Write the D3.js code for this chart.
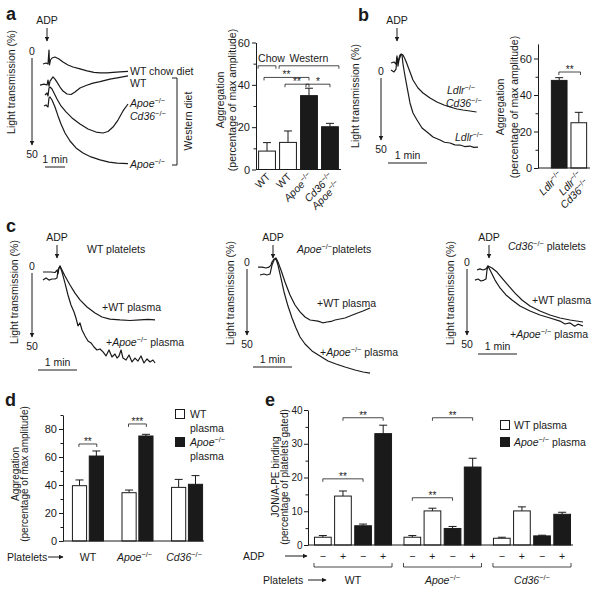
<!DOCTYPE html>
<html>
<head>
<meta charset="utf-8">
<script src="https://cdn.jsdelivr.net/npm/d3@7"></script>
<style>
body { margin: 0; background: #fff; }
text { font-family: "Liberation Sans", Arial, Helvetica, sans-serif; fill: #1a1a1a; }
</style>
</head>
<body>
<svg id="fig" width="601" height="593"></svg>
<script>
// ---------------- data ----------------
// traces: [seconds after ADP, light transmission %]
const aTraceWTChow = [[-18,4.2],[-9,3.6],[-3,4.2],[0,-4.2],[1.5,4.8],[4.5,1.8],[9,0.6],[18,0],[30,1.2],[42,3],[57,4.8],[72,6],[93,7.2],[114,8.4],[135,9.3],[153,9.6],[174,9.6],[192,9.3],[213,9],[237,8.7]]
const aTraceWTWestern = [[-27,16.9],[-15,16.3],[-6,16.9],[-3,13.9],[0,17.5],[3,14.5],[12,12],[18,13.3],[24,15.1],[33,18.1],[42,20.5],[54,22.3],[66,22.6],[78,21.1],[93,18.7],[111,17.2],[132,15.7],[153,14.8],[183,13.3],[213,12.3],[237,11.4]]
const aTraceApoeCd36 = [[-12,22.9],[-6,21.7],[-3,23.5],[0,18.7],[3,18.1],[9,19.3],[15,21.7],[24,25.3],[36,29.5],[51,33.1],[69,36.7],[93,40.4],[117,43.4],[141,45.2],[162,45.8],[177,44.9],[192,42.2],[207,38],[222,32.5],[237,28.3]]
const aTraceApoe = [[-15,29.5],[-9,28.9],[-3,30.1],[0,24.7],[3,24.1],[9,25.9],[18,30.1],[27,35.5],[36,40.4],[48,45.8],[63,50.6],[81,54.8],[102,57.8],[126,60.2],[153,62],[180,63.3],[204,63.9],[237,64.2]]
const aLabels = ["WT", "WT", "_Apoe_^−/−^", "_Cd36_^−/−^|_Apoe_^−/−^"]
const aAggregation = [8.7, 12.8, 34.9, 20.2]
const aSem = [4, 5.4, 3.5, 1.6]
const aSig = [[0, 2, 43.5, "**"], [1, 2, 40.3, "**"], [2, 3, 40.3, "*"]]

const bTraceLdlrCd36 = [[-9.2,-11.1],[-4.6,-11.9],[-1.5,-10.3],[0,-16.7],[1.5,-8.7],[3.1,-13.5],[6.2,-18.3],[9.2,-17.5],[12.3,-14.3],[15.4,-10.3],[20,-4],[24.6,2.4],[32.3,8.7],[40,12.7],[50.8,16.7],[61.5,19.8],[72.3,22.2],[81.5,23.8],[92.3,25.4],[101.5,26.2],[112.3,27],[122.3,27.8]]
const bTraceLdlr = [[-9.2,-5.6],[-4.6,-4],[-1.5,-6.3],[0,-15.1],[1.5,-11.9],[4.6,-17.5],[7.7,-17.5],[9.2,-10.3],[12.3,-0.8],[15.4,7.9],[20,20.6],[24.6,28.6],[30.8,34.1],[38.5,40.5],[46.2,43.7],[55.4,47.6],[66.2,50],[73,51.8],[81.5,52.4],[89,53.9],[96.9,54],[104,55.2],[112.3,54.8],[118,55.9],[124.6,55.6]]
const bLabels = ["_Ldlr_^−/−^", "_Ldlr_^−/−^|_Cd36_^−/−^"]
const bAggregation = [48, 24.8]
const bSem = [1.5, 5.7]

const cWTPlateletsWT = [[-21.5,0],[-15.4,0],[-9.2,0],[-3.1,0.4],[0,-1.5],[1.5,1.5],[3.1,-3.1],[4.6,-4.6],[7.7,-1.5],[12.3,3.1],[20,10],[27.7,16.2],[35.4,21.5],[46.2,26.9],[58.5,31.5],[69.2,34.6],[81.5,36.2],[96.9,36.9],[112.3,37.3],[127.7,36.9],[140,36.5],[150.8,36.9]]
const cWTPlateletsApoe = [[-21.5,6.2],[-16.9,4.6],[-12.3,6.2],[-7.7,5.4],[-3.1,5.4],[0,4.6],[1.5,-1.5],[4.6,-4.6],[7.7,0],[12.3,8.5],[16.9,17.7],[21.5,25.4],[26.2,30.8],[29.2,35.4],[32.3,41.5],[35.4,39.2],[38.5,44.6],[43.1,49.2],[47.7,53.1],[52.3,54.6],[56.9,57.7],[61.5,60],[66.2,59.2],[70.8,61.5],[75.4,64.6],[80,60],[84.6,65.4],[89.2,63.1],[92.3,66.2],[95.4,64.6],[98.5,60],[101.5,66.2],[106.2,67.7],[110.8,63.8],[115.4,69.2],[120,66.2],[124.6,68.5],[129.2,64.6],[133.8,70],[138.5,66.9],[143.1,69.2],[147.7,67.7],[150.8,70]]
const cApoePlateletsWT = [[-21.5,-0.7],[-15.4,-0.7],[-9.2,0],[-4.6,-0.7],[-1.5,-2.2],[0,-4.5],[3.1,-6.7],[6.2,-7.5],[9.2,-4.5],[13.8,1.5],[20,10.4],[27.7,20.1],[35.4,27.6],[43.1,32.8],[50.8,36.6],[58.5,38.8],[70.8,39.6],[78,40.9],[84.6,40.3],[91,39.9],[96.9,38.8],[112.3,37.3],[127.7,34.3],[140,32.1],[150.8,29.9]]
const cApoePlateletsApoe = [[-18.5,5.2],[-12.3,4.5],[-7.7,5.2],[-3.1,4.5],[0,-2.2],[3.1,-6],[6.2,-6.7],[9.2,-2.2],[13.8,7.5],[18.5,17.9],[24.6,28.4],[30.8,37.3],[36.9,44.8],[43.1,51.5],[50.8,56.7],[61.5,61.9],[73.8,65.7],[86.2,69.4],[98.5,71.6],[112.3,73.9],[127.7,76.1],[140,77.6],[150.8,78.4]]
const cCd36PlateletsWT = [[-15.4,1.5],[-10.8,0.7],[-6.2,1.5],[-1.5,0.7],[1.5,-1.5],[7.7,0],[15.4,3],[23.1,7.5],[32.3,12.7],[43.1,18.7],[53.8,23.9],[66.2,28.4],[81.5,32.1],[96.9,35.1],[112.3,37.3],[127.7,38.8],[147.7,40.3]]
const cCd36PlateletsApoe = [[-18.5,9],[-13.8,8.2],[-9.2,9.7],[-4.6,9],[-1.5,8.2],[0,1.5],[1.5,-1.5],[6.2,3],[12.3,9],[20,14.9],[29.2,20.1],[38.5,23.9],[50.8,28.4],[66.2,32.1],[81.5,35.1],[96.9,37.3],[112.3,39.6],[120,41.8],[127.7,41],[135,43.4],[140,41.9],[147.7,43.3]]

const dPlatelets = ["WT", "_Apoe_^−/−^", "_Cd36_^−/−^"]
const dWTPlasma = [39.5, 34.5, 38.3]
const dWTPlasmaSem = [4.1, 1.9, 5.7]
const dApoePlasma = [60.7, 75, 40.5]
const dApoePlasmaSem = [3.6, 1.2, 6.2]
const dSig = [[0, 69.3, "**"], [1, 83.6, "***"]]

const ePlatelets = ["WT", "_Apoe_^−/−^", "_Cd36_^−/−^"]
const eADP = ["−", "+", "−", "+"]
const ePlasma = ["WT", "WT", "Apoe", "Apoe"]
const eBinding = [[2.3, 14.5, 5.7, 33], [2.3, 10.1, 4.9, 23.1], [2, 10.1, 2.7, 9.1]]
const eSem = [[0.5, 1.5, 0.5, 2.5], [0.5, 0.8, 0.6, 2.6], [0.3, 1.2, 0.2, 0.6]]
const eSig = [[0, 0, 2, 19.6], [0, 1, 3, 37.7], [1, 0, 2, 14], [1, 1, 3, 37.7]]

// ---------------- helpers ----------------
const svg = d3.select("#fig")
const ink = "#1a1a1a"
svg.append("defs").append("marker")
    .attr("id", "ah").attr("viewBox", "0 0 10 10").attr("refX", 9).attr("refY", 5)
    .attr("markerWidth", 5).attr("markerHeight", 5).attr("orient", "auto")
    .append("path").attr("d", "M0,0L10,5L0,10z").attr("fill", ink)

// _italic_  ^superscript^
function rich(sel, str) {
    str.split(/(_[^_]+_|\^[^^]+\^)/).filter(s => s).forEach(s => {
        if (s[0] === "_") sel.append("tspan").style("font-style", "italic").text(s.slice(1, -1))
        else if (s[0] === "^") sel.append("tspan").attr("baseline-shift", "super").attr("font-size", "70%").text(s.slice(1, -1))
        else sel.append("tspan").text(s)
    })
    return sel
}
function txt(x, y, str, size, anchor) {
    const t = svg.append("text").attr("x", x).attr("y", y)
        .attr("font-size", size || 10.5).attr("text-anchor", anchor || "start")
    return rich(t, str)
}
function vtxt(x, y, str, size) {
    const t = svg.append("text").attr("transform", `translate(${x},${y}) rotate(-90)`)
        .attr("font-size", size || 10.5).attr("text-anchor", "middle")
    return rich(t, str)
}
function line(x1, y1, x2, y2, w) {
    return svg.append("line").attr("x1", x1).attr("y1", y1).attr("x2", x2).attr("y2", y2)
        .attr("stroke", ink).attr("stroke-width", w || 1)
}
function arrow(x1, y1, x2, y2) {
    return line(x1, y1, x2, y2).attr("marker-end", "url(#ah)")
}
function letter(x, y, l) {
    svg.append("text").attr("x", x).attr("y", y).attr("font-size", 18).attr("font-weight", "bold").text(l)
}
function sig(x1, x2, yy, label) {
    svg.append("path").attr("d", `M${x1},${yy + 3}V${yy}H${x2}V${yy + 3}`)
        .attr("fill", "none").attr("stroke", ink).attr("stroke-width", 0.8)
    txt((x1 + x2) / 2, yy + 1, label, 10, "middle")
}
function bar(x, w, y, v, e, black) {
    const cx = x + w / 2
    line(cx, y(v), cx, y(v + e))
    line(cx - 4, y(v + e), cx + 4, y(v + e))
    svg.append("rect").attr("x", x + 0.5).attr("y", y(v)).attr("width", w - 1)
        .attr("height", y(0) - y(v)).attr("fill", black ? ink : "#fff")
        .attr("stroke", ink).attr("stroke-width", 1)
}
function yAxis(x, y, major, minor, size) {
    svg.append("g").attr("transform", `translate(${x},0)`)
        .call(d3.axisLeft(y).tickValues(major).tickSize(4).tickSizeOuter(0).tickPadding(size ? 1.5 : 2))
        .call(g => g.selectAll("text").attr("font-size", size || 11).attr("fill", ink))
        .call(g => g.selectAll("line,path").attr("stroke", ink))
    svg.append("g").attr("transform", `translate(${x},0)`)
        .call(d3.axisLeft(y).tickValues(minor).tickSize(2.5).tickFormat(""))
        .call(g => g.select(".domain").remove())
        .call(g => g.selectAll("line").attr("stroke", ink))
}
function rotLabel(cx, y0, str) {
    str.split("|").forEach((s, i) => {
        const t = svg.append("text")
            .attr("transform", `translate(${cx + 4 + i * 7},${y0 + 8 + i * 8}) rotate(-45)`)
            .attr("font-size", 10.5).attr("text-anchor", "end")
        rich(t, s)
    })
}
// trace panel: transmission arrow, ADP arrow, 1 min bar, traces
function tracePanel(p, series) {
    const y = p.y, x = p.x
    txt(p.adpX, p.adpY, "ADP", 10.5, "middle")
    arrow(p.adpX, p.adpY + 4, p.adpX, p.adpY + 17)
    txt(p.axX, y(0) - 2, "0", 10.5, "middle")
    arrow(p.axX, y(0) + 1, p.axX, p.axEnd)
    txt(p.axX, p.axEnd + 13, "50", 10.5, "middle")
    vtxt(p.labX, p.labY, "Light transmission (%)")
    const len = x(60) - x(0)
    line(p.barX, p.barY, p.barX + len, p.barY)
    txt(p.barX + len / 2, p.barY - 4, "1 min", 10.5, "middle")
    const path = d3.line().x(d => x(d[0])).y(d => y(d[1]))
    series.forEach(s => svg.append("path").datum(s).attr("d", path)
        .attr("fill", "none").attr("stroke", ink).attr("stroke-width", 1.2)
        .attr("stroke-linejoin", "round"))
}

// ---------------- panel a ----------------
letter(6, 20, "a")
tracePanel({
    x: d3.scaleLinear().domain([0, 60]).range([49, 69]),
    y: d3.scaleLinear().domain([0, 50]).range([57, 140]),
    adpX: 47, adpY: 24, axX: 32, axEnd: 145, labX: 15, labY: 82, barX: 45, barY: 167
}, [aTraceWTChow, aTraceWTWestern, aTraceApoeCd36, aTraceApoe])
txt(130, 75, "WT chow diet")
txt(130, 87, "WT")
txt(130, 107, "_Apoe_^−/−^")
txt(130, 120, "_Cd36_^−/−^")
txt(130, 168, "_Apoe_^−/−^")
svg.append("path").attr("d", "M172,78H177V165H172").attr("fill", "none").attr("stroke", ink)
vtxt(192, 121, "Western diet")

const ya = d3.scaleLinear().domain([0, 60]).range([169.5, 42.5])
const xa = d3.scaleBand().domain(d3.range(aAggregation.length)).range([256, 341]).paddingInner(0.15).paddingOuter(0.1)
aAggregation.forEach((v, i) => bar(xa(i), xa.bandwidth(), ya, v, aSem[i], i >= 2))
yAxis(256, ya, [0, 20, 40, 60], [10, 30, 50])
line(256, ya(0), 341, ya(0))
aLabels.forEach((l, i) => rotLabel(xa(i) + xa.bandwidth() / 2, ya(0), l))
vtxt(223.5, 100, "Aggregation")
vtxt(235.5, 100, "(percentage of max amplitude)")
const ca = i => xa(i) + xa.bandwidth() / 2
svg.append("path").attr("d", `M${xa(0)},${ya(49) + 3}V${ya(49)}H${xa(0) + xa.bandwidth()}V${ya(49) + 3}`).attr("fill", "none").attr("stroke", ink).attr("stroke-width", 0.8)
svg.append("path").attr("d", `M${xa(1)},${ya(49) + 3}V${ya(49)}H${xa(3) + xa.bandwidth()}V${ya(49) + 3}`).attr("fill", "none").attr("stroke", ink).attr("stroke-width", 0.8)
txt(xa(0), ya(49) - 4, "Chow")
txt((xa(1) + xa(3) + xa.bandwidth()) / 2, ya(49) - 4, "Western", 10.5, "middle")
aSig.forEach(s => sig(ca(s[0]) - 3, ca(s[1]), ya(s[2]), s[3]))

// ---------------- panel b ----------------
letter(358, 21, "b")
tracePanel({
    x: d3.scaleLinear().domain([0, 60]).range([397, 436]),
    y: d3.scaleLinear().domain([0, 50]).range([77, 140]),
    adpX: 397, adpY: 24, axX: 381, axEnd: 140, labX: 358.5, labY: 96, barX: 388, barY: 163
}, [bTraceLdlrCd36, bTraceLdlr])
txt(447, 94, "_Ldlr_^−/−^")
txt(446, 107, "_Cd36_^−/−^")
txt(455, 141, "_Ldlr_^−/−^")

const yb = d3.scaleLinear().domain([0, 68]).range([168, 43.9])
const xb = d3.scaleBand().domain(d3.range(bAggregation.length)).range([544, 594]).paddingInner(0.15).paddingOuter(0.35)
bAggregation.forEach((v, i) => bar(xb(i), xb.bandwidth(), yb, v, bSem[i], i === 0))
yAxis(538, yb, [0, 20, 40, 60], [10, 30, 50])
line(538, yb(0), 590, yb(0))
bLabels.forEach((l, i) => rotLabel(xb(i) + xb.bandwidth() / 2, yb(0), l))
vtxt(503.5, 107, "Aggregation")
vtxt(517.5, 107, "(percentage of max amplitude)")
sig(xb(0) + 8, xb(1) + 10, yb(52.6), "**")

// ---------------- panel c ----------------
letter(6, 232, "c")
tracePanel({
    x: d3.scaleLinear().domain([0, 60]).range([57, 96]),
    y: d3.scaleLinear().domain([0, 50]).range([272, 337]),
    adpX: 57, adpY: 241, axX: 32, axEnd: 337, labX: 17.5, labY: 292, barX: 38, barY: 370
}, [cWTPlateletsWT, cWTPlateletsApoe])
txt(87, 253, "WT platelets")
txt(102, 311, "+WT plasma")
txt(106, 346, "+_Apoe_^−/−^ plasma")

tracePanel({
    x: d3.scaleLinear().domain([0, 60]).range([272, 311]),
    y: d3.scaleLinear().domain([0, 50]).range([268, 335]),
    adpX: 273, adpY: 241, axX: 247, axEnd: 335, labX: 233.5, labY: 293, barX: 253, barY: 367
}, [cApoePlateletsWT, cApoePlateletsApoe])
txt(297, 253, "_Apoe_^−/−^platelets")
txt(317, 307, "+WT plasma")
txt(320, 356, "+_Apoe_^−/−^ plasma")

tracePanel({
    x: d3.scaleLinear().domain([0, 60]).range([487, 526]),
    y: d3.scaleLinear().domain([0, 50]).range([268, 335]),
    adpX: 489, adpY: 241, axX: 467, axEnd: 335, labX: 453.5, labY: 293, barX: 478, barY: 354
}, [cCd36PlateletsWT, cCd36PlateletsApoe])
txt(508, 250, "_Cd36_^−/−^ platelets")
txt(532, 304, "+WT plasma")
txt(510, 338, "+_Apoe_^−/−^ plasma")

// ---------------- panel d ----------------
letter(5, 406, "d")
const yd = d3.scaleLinear().domain([0, 90]).range([541, 415])
const xd = d3.scaleBand().domain(d3.range(dPlatelets.length)).range([63, 212]).paddingInner(0.354).paddingOuter(0.18)
const xdi = d3.scaleBand().domain([0, 1]).range([0, xd.bandwidth()]).paddingInner(0.1)
dPlatelets.forEach((p, i) => {
    bar(xd(i) + xdi(0), xdi.bandwidth(), yd, dWTPlasma[i], dWTPlasmaSem[i], false)
    bar(xd(i) + xdi(1), xdi.bandwidth(), yd, dApoePlasma[i], dApoePlasmaSem[i], true)
    txt(xd(i) + xd.bandwidth() / 2 - (i ? 3 : 0), 561, p, 10.5, "middle")
})
yAxis(63, yd, [0, 20, 40, 60, 80], [10, 30, 50, 70, 90])
line(63, yd(0), 204, yd(0))
dSig.forEach(s => sig(xd(s[0]) + xdi(0) + 7, xd(s[0]) + xdi(1) + 8, yd(s[1]), s[2]))
vtxt(18.5, 474, "Aggregation", 10)
vtxt(28, 474, "(percentage of max amplitude)", 10)
txt(7, 561, "Platelets")
arrow(48, 557, 63, 557)
svg.append("rect").attr("x", 175.5).attr("y", 409.5).attr("width", 9).attr("height", 9).attr("fill", "#fff").attr("stroke", ink)
txt(190, 418, "WT")
txt(190, 432, "plasma")
svg.append("rect").attr("x", 175.5).attr("y", 437.5).attr("width", 9).attr("height", 9).attr("fill", ink).attr("stroke", ink)
txt(190, 446, "_Apoe_^−/−^")
txt(190, 460, "plasma")

// ---------------- panel e ----------------
letter(265, 406, "e")
const ye = d3.scaleLinear().domain([0, 40]).range([545, 410])
const xe = d3.scaleBand().domain(d3.range(ePlatelets.length)).range([308, 577]).paddingInner(0.128).paddingOuter(0.067)
const xei = d3.scaleBand().domain(d3.range(eADP.length)).range([0, xe.bandwidth()]).paddingInner(0.12)
const ce = (g, k) => xe(g) + xei(k) + xei.bandwidth() / 2
ePlatelets.forEach((p, g) => {
    eADP.forEach((a, k) => {
        bar(xe(g) + xei(k), xei.bandwidth(), ye, eBinding[g][k], eSem[g][k], ePlasma[k] !== "WT")
        txt(ce(g, k), 560, a, 10.5, "middle")
    })
    svg.append("path").attr("d", `M${xe(g)},563V567H${xe(g) + xe.bandwidth()}V563`).attr("fill", "none").attr("stroke", ink).attr("stroke-width", 0.8)
    txt(xe(g) + xe.bandwidth() / 2, 584, p, 10.5, "middle")
})
yAxis(308, ye, [0, 10, 20, 30, 40], [5, 15, 25, 35], 10)
line(308, ye(0), 573, ye(0))
eSig.forEach(s => sig(ce(s[0], s[1]), ce(s[0], s[2]), ye(s[3]), "**"))
vtxt(278.5, 477, "JON/A-PE binding", 10)
vtxt(288, 477, "(percentage of platelets gated)", 10)
txt(243, 560, "ADP")
arrow(285, 556, 307, 556)
txt(263, 584, "Platelets")
arrow(308, 580, 326, 580)
svg.append("rect").attr("x", 500.5).attr("y", 420.5).attr("width", 9).attr("height", 9).attr("fill", "#fff").attr("stroke", ink)
txt(514, 429, "WT plasma")
svg.append("rect").attr("x", 500.5).attr("y", 437.5).attr("width", 9).attr("height", 9).attr("fill", ink).attr("stroke", ink)
txt(514, 446, "_Apoe_^−/−^ plasma")
</script>
</body>
</html>
